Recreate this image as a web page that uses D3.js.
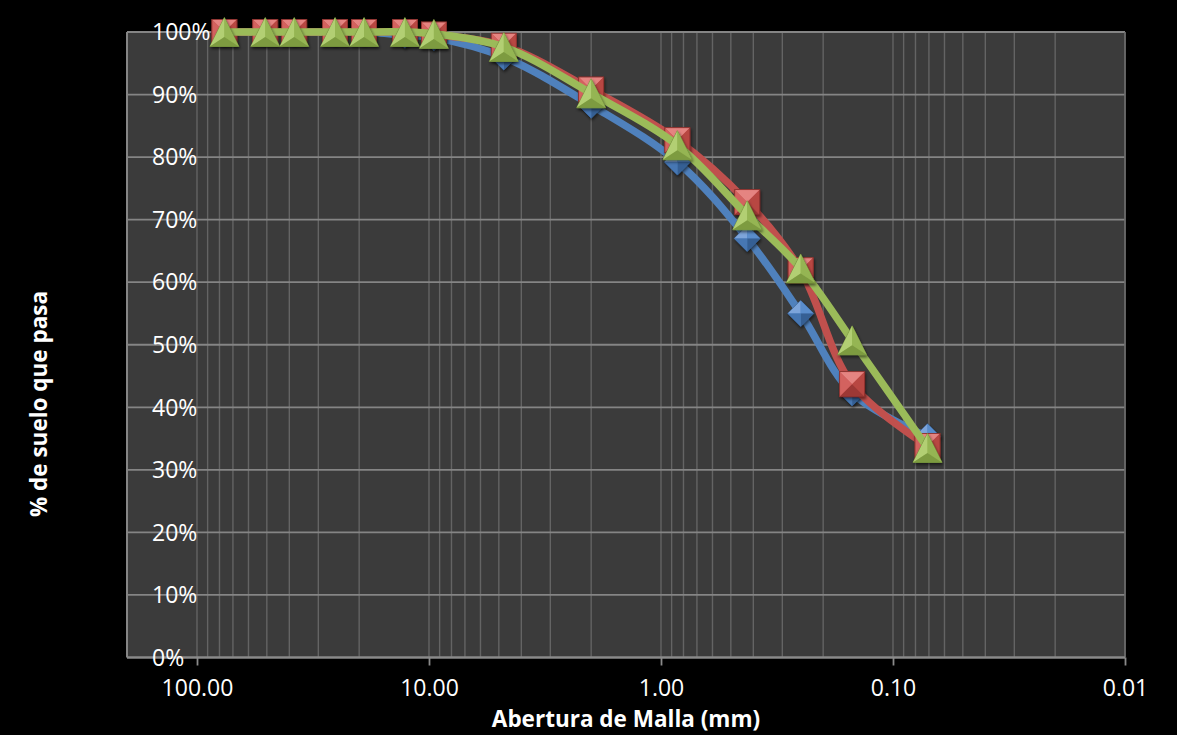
<!DOCTYPE html>
<html>
<head>
<meta charset="utf-8">
<script src="https://cdn.jsdelivr.net/npm/d3@7"></script>
<style>
  html, body { margin: 0; padding: 0; background: #000; }
  svg { display: block; }
  text { font-family: "Open Sans", "Liberation Sans", sans-serif; fill: #fff; }
</style>
</head>
<body>
<svg id="chart" width="1177" height="735"></svg>
<script>
// ---- data ----
const sizesMm = [76.2, 50.8, 38.1, 25.4, 19.05, 12.7, 9.525, 4.76, 2.0, 0.85, 0.425, 0.25, 0.15, 0.071];
const serieAzul  = [100, 100, 100, 100, 100, 99.5, 99.1, 96.0, 88.3, 79.2, 67.0, 55.0, 42.3, 35.3];
const serieRoja  = [100, 100, 100, 100, 100, 100, 99.6, 97.8, 90.8, 82.7, 72.8, 61.9, 43.7, 33.8];
const serieVerde = [100, 100, 100, 100, 100, 100, 99.7, 97.6, 90.2, 81.9, 70.7, 62.2, 50.7, 33.5];
const xTickValues = [100, 10, 1, 0.1, 0.01];
const yTickValues = [0, 10, 20, 30, 40, 50, 60, 70, 80, 90, 100];
const xTitle = "Abertura de Malla (mm)";
const yTitle = "% de suelo que pasa";

const svg = d3.select("#chart");
svg.append("rect").attr("width", 1177).attr("height", 735).attr("fill", "#000");

const plot = { left: 127, right: 1125, top: 32, bottom: 657.5 };
const x = d3.scaleLog().domain([100, 0.01]).range([197, 1125]);
const y = d3.scaleLinear().domain([0, 100]).range([plot.bottom, plot.top]);

const defs = svg.append("defs");
const f = defs.append("filter").attr("id", "shadow").attr("x", "-50%").attr("y", "-50%").attr("width", "200%").attr("height", "200%");
f.append("feDropShadow").attr("dx", 1).attr("dy", 2).attr("stdDeviation", 1.5).attr("flood-color", "#000").attr("flood-opacity", 0.55);

// plot area
svg.append("rect")
  .attr("x", plot.left).attr("y", plot.top)
  .attr("width", plot.right - plot.left).attr("height", plot.bottom - plot.top)
  .attr("fill", "#3b3b3b");

// vertical (log) gridlines
svg.append("g").selectAll("line").data(x.ticks())
  .join("line")
  .attr("x1", d => x(d)).attr("x2", d => x(d))
  .attr("y1", plot.top).attr("y2", plot.bottom)
  .attr("stroke", "#646464").attr("stroke-width", 1.4);

// horizontal gridlines
svg.append("g").selectAll("line").data(yTickValues)
  .join("line")
  .attr("x1", plot.left).attr("x2", plot.right)
  .attr("y1", d => y(d)).attr("y2", d => y(d))
  .attr("stroke", "#858585").attr("stroke-width", 1.8);

// plot border left/right
svg.append("line").attr("x1", plot.left).attr("x2", plot.left).attr("y1", plot.top).attr("y2", plot.bottom)
  .attr("stroke", "#858585").attr("stroke-width", 2);
svg.append("line").attr("x1", plot.right).attr("x2", plot.right).attr("y1", plot.top).attr("y2", plot.bottom)
  .attr("stroke", "#6a6a6a").attr("stroke-width", 1.6);

// x axis
const xAxis = d3.axisBottom(x).tickValues(xTickValues).tickFormat(d3.format(".2f")).tickSize(8).tickPadding(14);
const gx = svg.append("g").attr("transform", `translate(0,${plot.bottom})`).call(xAxis);
gx.select(".domain").remove();
gx.selectAll(".tick line").attr("stroke", "#8a8a8a").attr("stroke-width", 1.8);
gx.selectAll(".tick text").attr("fill", "#fff").style("font-size", "23px").style("font-family", "'Open Sans', sans-serif");
svg.append("line").attr("x1", plot.left).attr("x2", plot.right).attr("y1", plot.bottom).attr("y2", plot.bottom)
  .attr("stroke", "#8a8a8a").attr("stroke-width", 2);

// y tick labels (left aligned inside plot area, as in reference)
svg.append("g").selectAll("text").data(yTickValues)
  .join("text")
  .attr("x", 152).attr("y", d => y(d)).attr("dy", "0.36em")
  .attr("text-anchor", "start")
  .style("font-size", "23px")
  .text(d => d + "%");

// titles
svg.append("text").attr("x", (plot.left + plot.right) / 2).attr("y", 727)
  .attr("text-anchor", "middle").style("font-size", "22.5px").style("font-weight", "bold").text(xTitle);
svg.append("text").attr("transform", "translate(39,404) rotate(-90)")
  .attr("dy", "0.35em").attr("text-anchor", "middle")
  .style("font-size", "22.5px").style("font-weight", "bold").text(yTitle);

// series
const line = d3.line().curve(d3.curveCatmullRom.alpha(0.5)).x(d => x(d[0])).y(d => y(d[1]));

function diamond(g, c) {
  const r = 13;
  g.append("path").attr("d", `M0,${-r}L${r},0L0,${r}L${-r},0Z`).attr("fill", c.base).attr("stroke", c.edge).attr("stroke-width", 0.8);
  g.append("path").attr("d", `M0,0L0,${-r}L${-r},0Z`).attr("fill", c.light);
  g.append("path").attr("d", `M0,0L0,${-r}L${r},0Z`).attr("fill", c.midlight);
  g.append("path").attr("d", `M0,0L${r},0L0,${r}Z`).attr("fill", c.dark);
  g.append("path").attr("d", `M0,0L${-r},0L0,${r}Z`).attr("fill", c.mid);
}
function square(g, c) {
  const s = 12.5;
  g.append("rect").attr("x", -s).attr("y", -s).attr("width", 2 * s).attr("height", 2 * s).attr("fill", c.base).attr("stroke", c.edge).attr("stroke-width", 0.8);
  g.append("path").attr("d", `M0,0L${-s},${-s}L${s},${-s}Z`).attr("fill", c.light);
  g.append("path").attr("d", `M0,0L${-s},${-s}L${-s},${s}Z`).attr("fill", c.midlight);
  g.append("path").attr("d", `M0,0L${s},${-s}L${s},${s}Z`).attr("fill", c.mid);
  g.append("path").attr("d", `M0,0L${-s},${s}L${s},${s}Z`).attr("fill", c.dark);
  g.append("rect").attr("x", -s).attr("y", -s).attr("width", 2 * s).attr("height", 2 * s).attr("fill", "none").attr("stroke", c.edge).attr("stroke-width", 0.8);
}
function triangle(g, c) {
  const h = 14.5, w = 14.5;
  g.append("path").attr("d", `M0,${-h}L${w},${h}L${-w},${h}Z`).attr("fill", c.base).attr("stroke", c.edge).attr("stroke-width", 0.8);
  g.append("path").attr("d", `M0,${-h}L${-w},${h}L0,5Z`).attr("fill", c.light);
  g.append("path").attr("d", `M0,${-h}L${w},${h}L0,5Z`).attr("fill", c.mid);
  g.append("path").attr("d", `M${-w},${h}L${w},${h}L0,5Z`).attr("fill", c.dark);
}

const series = [
  { values: serieAzul, stroke: "#4F81BD", marker: diamond,
    colors: { base: "#4F81BD", light: "#7DA5DB", midlight: "#5A8DCC", mid: "#4677B3", dark: "#355F94", edge: "#2F5583" } },
  { values: serieRoja, stroke: "#C0504D", marker: square,
    colors: { base: "#C0504D", light: "#E58481", midlight: "#D3625F", mid: "#B84642", dark: "#9C3835", edge: "#8A302D" } },
  { values: serieVerde, stroke: "#9BBB59", marker: triangle,
    colors: { base: "#9BBB59", light: "#B2CF73", mid: "#95B553", dark: "#7D9B40", edge: "#6B8736" } }
];

series.forEach(s => {
  const pts = sizesMm.map((m, i) => [m, s.values[i]]);
  const g = svg.append("g");
  g.append("path").datum(pts).attr("d", line)
    .attr("fill", "none").attr("stroke", s.stroke).attr("stroke-width", 7.5)
    .attr("stroke-linecap", "round").attr("stroke-linejoin", "round");
  g.selectAll("g.mk").data(pts).join("g").attr("class", "mk")
    .attr("transform", d => `translate(${x(d[0])},${y(d[1])})`)
    .attr("filter", "url(#shadow)")
    .each(function () { s.marker(d3.select(this), s.colors); });
});
</script>
</body>
</html>
